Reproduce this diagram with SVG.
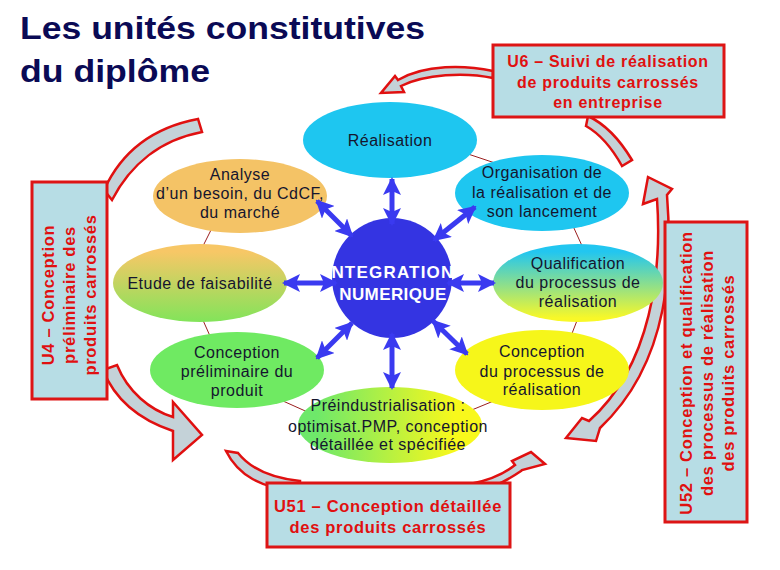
<svg xmlns="http://www.w3.org/2000/svg" width="780" height="570" viewBox="0 0 780 570">
<style>
.t{font-family:"Liberation Sans",Arial,sans-serif;font-size:16px;fill:#15152e;text-anchor:middle;letter-spacing:0.5px}
.u{font-family:"Liberation Sans",Arial,sans-serif;font-size:16.5px;font-weight:bold;fill:#e01010;text-anchor:middle;letter-spacing:0.7px}
.box{fill:#b7dde5;stroke:#dd1515;stroke-width:3}
.red{fill:#c4d2d8;stroke:#e01010;stroke-width:2.5;stroke-linejoin:miter}
.ring{fill:none;stroke:#9b1f1f;stroke-width:1}
.ba{stroke:#3a3af0;stroke-width:5;fill:none;marker-start:url(#ah);marker-end:url(#ah)}
.w{font-family:"Liberation Sans",Arial,sans-serif;font-size:17px;font-weight:bold;fill:#ffffff;text-anchor:middle}
</style>
<defs>
<marker id="ah" markerUnits="userSpaceOnUse" markerWidth="18" markerHeight="18" viewBox="0 0 18 18" refX="16" refY="9" orient="auto-start-reverse">
<path d="M0,0 L18,9 L0,18 L4,9 Z" fill="#3a3af0"/>
</marker>
<linearGradient id="gEtude" x1="0" y1="0" x2="0" y2="1">
<stop offset="0.1" stop-color="#f7c766"/><stop offset="1" stop-color="#82e45a"/>
</linearGradient>
<linearGradient id="gQual" x1="0" y1="0" x2="0" y2="1">
<stop offset="0.1" stop-color="#22c6f0"/><stop offset="0.95" stop-color="#f8f828"/>
</linearGradient>
<linearGradient id="gPre" x1="0" y1="0" x2="1" y2="0">
<stop offset="0.1" stop-color="#6ee86a"/><stop offset="0.85" stop-color="#f8f81c"/>
</linearGradient>
</defs>
<rect width="780" height="570" fill="#ffffff"/>

<g id="title" font-family="'Liberation Sans',Arial,sans-serif" font-weight="bold" font-size="32" fill="#0a0a55">
<text x="20" y="39" textLength="405" lengthAdjust="spacingAndGlyphs">Les unités constitutives</text>
<text x="20" y="82" textLength="190" lengthAdjust="spacingAndGlyphs">du diplôme</text>
</g>

<g id="connectors-back">
<path class="ring" d="M462,152 L498,164"/>
<path class="ring" d="M573,226 L583,248"/>
<path class="ring" d="M578,318 L571,336"/>
<path class="ring" d="M462,414 L496,400"/>
<path class="ring" d="M283,401 L312,414"/>
<path class="ring" d="M202,318 L210,336"/>
<path class="ring" d="M212,228 L202,248"/>
<path class="red" d="M493,71 C465,65 425,64 398,80 L395,76 L381,93 L404,92 L401,86 C425,74 465,72 493,78 Z"/>
<path class="red" d="M588,116 C605,124 620,140 632,160 L622,166 C612,148 600,134 586,126 Z"/>
<path class="red" d="M104,190 C120,155 150,128 198,119 L202,132 C160,140 130,165 112,200 Z"/>
<path class="red" d="M117,365 C128,392 150,410 173,417 L173,402 L202,435 L173,460 L173,431 C140,420 115,400 103,370 Z"/>
<path class="red" d="M226,451 L238,453 C250,468 270,478 300,481 L300,492 C260,488 238,475 226,451 Z"/>
<path class="red" d="M470,484 C490,480 505,473 515,465 L512,461 L531,452 L545,464 L522,470 L521,471 C505,482 490,488 480,491 Z"/>
<path class="red" d="M648,177 L672,189 L667,195 C672,260 672,360 600,428 L596,441 L566,438 L582,418 L589,421 C652,365 662,270 657,199 L643,204 Z"/>
</g>

<g id="realisation">
<ellipse cx="390" cy="140" rx="87" ry="38" fill="#1ec6f0"/>
<text class="t" x="390" y="146">Réalisation</text>
</g>
<g id="analyse">
<ellipse cx="240" cy="196" rx="87" ry="37" fill="#f4c366"/>
<text class="t" x="240" y="180">Analyse</text>
<text class="t" x="240" y="199">d’un besoin, du CdCF,</text>
<text class="t" x="240" y="218">du marché</text>
</g>
<g id="organisation">
<ellipse cx="542" cy="193" rx="87" ry="38" fill="#1ec6f0"/>
<text class="t" x="542" y="178">Organisation de</text>
<text class="t" x="542" y="198">la réalisation et de</text>
<text class="t" x="542" y="217">son lancement</text>
</g>
<g id="etude">
<ellipse cx="200" cy="283" rx="87" ry="39" fill="url(#gEtude)"/>
<text class="t" x="200" y="289">Etude de faisabilité</text>
</g>
<g id="qualification">
<ellipse cx="578" cy="283" rx="85" ry="39" fill="url(#gQual)"/>
<text class="t" x="578" y="269">Qualification</text>
<text class="t" x="578" y="288">du processus de</text>
<text class="t" x="578" y="307">réalisation</text>
</g>
<g id="conception-preliminaire">
<ellipse cx="237" cy="370" rx="87" ry="38" fill="#6fea62"/>
<text class="t" x="237" y="358">Conception</text>
<text class="t" x="237" y="377">préliminaire du</text>
<text class="t" x="237" y="396">produit</text>
</g>
<g id="conception-processus">
<ellipse cx="542" cy="370" rx="87" ry="40" fill="#f6f61a"/>
<text class="t" x="542" y="357">Conception</text>
<text class="t" x="542" y="377">du processus de</text>
<text class="t" x="542" y="395">réalisation</text>
</g>
<g id="preindustrialisation">
<ellipse cx="390" cy="425" rx="92" ry="38" fill="url(#gPre)"/>
<text class="t" x="388" y="411">Préindustrialisation :</text>
<text class="t" x="388" y="432">optimisat.PMP, conception</text>
<text class="t" x="388" y="450">détaillée et spécifiée</text>
</g>
<g id="integration">
<circle cx="392" cy="278" r="60" fill="#3434e2"/>
<text class="w" x="390" y="278" letter-spacing="1.2">INTEGRATION</text>
<text class="w" x="393" y="300" letter-spacing="0.4">NUMERIQUE</text>
</g>

<g id="connectors">
<line class="ba" x1="392" y1="179" x2="392" y2="224"/>
<line class="ba" x1="317" y1="201" x2="352" y2="236"/>
<line class="ba" x1="475" y1="207" x2="434" y2="240"/>
<line class="ba" x1="284" y1="283" x2="336" y2="283"/>
<line class="ba" x1="494" y1="283" x2="448" y2="283"/>
<line class="ba" x1="317" y1="358" x2="352" y2="323"/>
<line class="ba" x1="467" y1="354" x2="433" y2="321"/>
<line class="ba" x1="392" y1="388" x2="392" y2="334"/>
</g>

<g id="u6">
<rect class="box" x="493" y="45" width="231" height="72"/>
<text class="u" x="608" y="67" style="font-size:16px">U6 – Suivi de réalisation</text>
<text class="u" x="608" y="88" style="font-size:16px">de produits carrossés</text>
<text class="u" x="608" y="108" style="font-size:16px">en entreprise</text>
</g>
<g id="u4">
<rect class="box" x="32" y="182" width="75" height="217"/>
<text class="u" transform="translate(54,295) rotate(-90)">U4 – Conception</text>
<text class="u" transform="translate(75,295) rotate(-90)">préliminaire des</text>
<text class="u" transform="translate(96,295) rotate(-90)">produits carrossés</text>
</g>
<g id="u52">
<rect class="box" x="665" y="222" width="82" height="300"/>
<text class="u" transform="translate(692,373) rotate(-90)">U52 – Conception et qualification</text>
<text class="u" transform="translate(713,373) rotate(-90)">des processus de réalisation</text>
<text class="u" transform="translate(734,373) rotate(-90)">des produits carrossés</text>
</g>
<g id="u51">
<rect class="box" x="267" y="483" width="243" height="64"/>
<text class="u" x="388" y="512">U51 – Conception détaillée</text>
<text class="u" x="388" y="533">des produits carrossés</text>
</g>
</svg>
